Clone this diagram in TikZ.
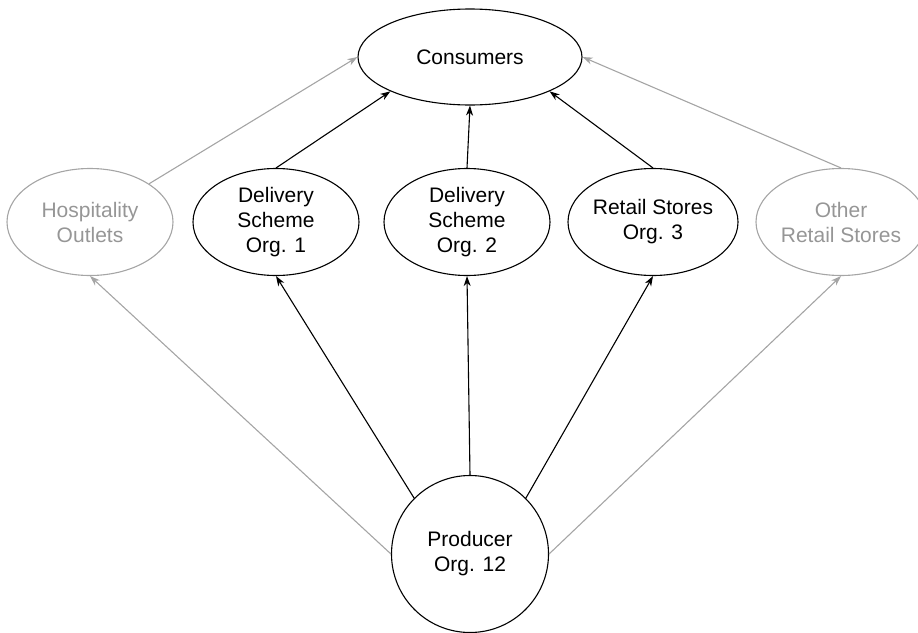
\documentclass[tikz,border=0pt]{standalone}
\usepackage{fontspec}
\setmainfont{Liberation Sans}
\usetikzlibrary{shapes.geometric,arrows.meta}
\definecolor{faint}{RGB}{165,165,165}
\definecolor{fainttext}{RGB}{150,150,150}
\tikzset{
  org/.style={ellipse, draw, line width=1.1pt, inner sep=0pt,
    minimum width=166pt, minimum height=107pt, align=center,
    font=\fontsize{21}{25}\selectfont},
  other/.style={org, draw=faint, text=fainttext},
  link/.style={line width=1.1pt, -{Stealth[length=10pt,width=7pt,inset=3pt]}},
  otherlink/.style={link, draw=faint, color=faint}
}
\begin{document}
\begin{tikzpicture}[x=1pt,y=-1pt]
\useasboundingbox (0,0) rectangle (918,632);
% nodes
\node[org, minimum width=224pt, minimum height=96pt] (cons) at (470,57) {Consumers};
\node[other] (hosp) at (90,222) {Hospitality\\Outlets};
\node[org] (ds1) at (276,222) {Delivery\\Scheme\\Org. 1};
\node[org] (ds2) at (467,222) {Delivery\\Scheme\\Org. 2};
\node[org] (rs3) at (653,222) {Retail Stores\\Org. 3};
\node[other, minimum width=158pt] (orst) at (841,222) {Other\\Retail Stores};
\node[org, circle, minimum size=157pt] (prod) at (470,554) {Producer\\Org. 12};
% producer to outlets
\draw[link] (prod.135) -- (ds1.south);
\draw[link] (prod.north) -- (ds2.south);
\draw[link] (prod.45) -- (rs3.south);
\draw[otherlink] (prod.west) -- (hosp.south);
\draw[otherlink] (prod.east) -- (orst.south);
% outlets to consumers
\draw[link] (ds1.north) -- (cons.south west);
\draw[link] (ds2.north) -- (cons.south);
\draw[link] (rs3.north) -- (cons.south east);
\draw[otherlink] (hosp.north east) -- (cons.west);
\draw[otherlink] (orst.north) -- (cons.east);
\end{tikzpicture}
\end{document}
